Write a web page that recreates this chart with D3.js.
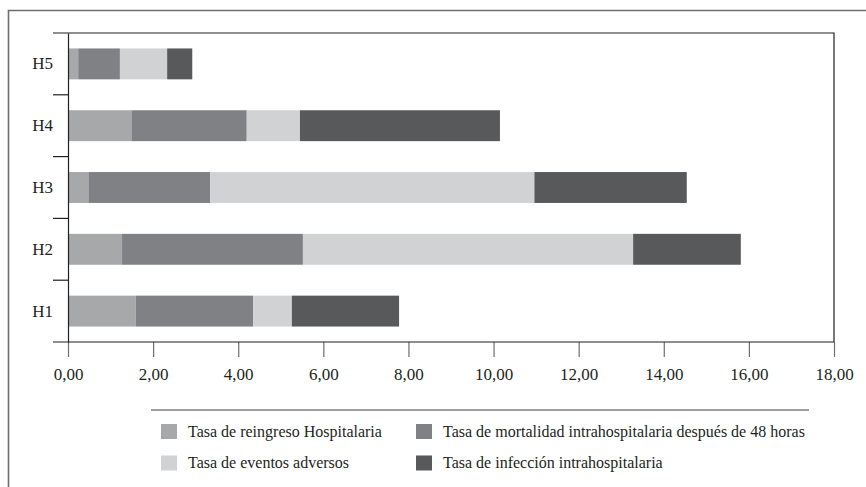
<!DOCTYPE html>
<html><head><meta charset="utf-8">
<script src="https://cdn.jsdelivr.net/npm/d3@7"></script>
<style>
html,body{margin:0;padding:0;background:#fff;}
svg{display:block;font-family:"Liberation Serif","Times New Roman",serif;}
</style></head>
<body><svg id="chart" width="866" height="487"></svg>
<script>
const categories = ["H1","H2","H3","H4","H5"];
const seriesNames = [
  "Tasa de reingreso Hospitalaria",
  "Tasa de mortalidad intrahospitalaria después de 48 horas",
  "Tasa de eventos adversos",
  "Tasa de infección intrahospitalaria"
];
const reingreso   = [1.59, 1.27, 0.48, 1.49, 0.24];
const mortalidad  = [2.76, 4.25, 2.86, 2.71, 0.98];
const eventos     = [0.91, 7.76, 7.62, 1.25, 1.11];
const infeccion   = [2.52, 2.53, 3.58, 4.70, 0.59];
const xTicks = [0,2,4,6,8,10,12,14,16,18];
const colors = ["#a7a8aa","#808184","#d1d2d4","#58595b"];

const svg = d3.select("#chart");
const L = 68, R = 834, T = 33, B = 342;
const FONT = "'Liberation Serif','Times New Roman',serif";

const table = categories.map((c,i)=>({cat:c, s0:reingreso[i], s1:mortalidad[i], s2:eventos[i], s3:infeccion[i]}));
const keys = ["s0","s1","s2","s3"];
const stacked = d3.stack().keys(keys)(table);

const x = d3.scaleLinear().domain([0,18]).range([L,R]);
const y = d3.scaleBand().domain(categories).range([B,T]).paddingInner(0.5).paddingOuter(0.25);

// outer frame
svg.append("path").attr("d","M8.5,487 V10.5 H866").attr("fill","none").attr("stroke","#6d6e70").attr("stroke-width",1.6);

// bars
svg.append("g").selectAll("g").data(stacked).join("g")
  .attr("fill",(d,i)=>colors[i])
  .selectAll("rect").data(d=>d).join("rect")
  .attr("x",d=>x(d[0])).attr("width",d=>x(d[1])-x(d[0]))
  .attr("y",d=>y(d.data.cat)).attr("height",y.bandwidth());

// frame of plot: top and right
svg.append("path").attr("d",`M53,${T} H${R} V${B}`).attr("fill","none").attr("stroke","#231f20").attr("stroke-width",1.2);

// x axis
const xAxis = d3.axisBottom(x).tickValues(xTicks).tickSize(15).tickFormat(d=>d3.format(".2f")(d).replace(".",","));
const gx = svg.append("g").attr("transform",`translate(0,${B})`).call(xAxis).attr("font-family",FONT);
gx.select(".domain").remove();
gx.append("line").attr("x1",53).attr("x2",R).attr("stroke","#231f20").attr("stroke-width",1.2);
gx.selectAll(".tick line").attr("stroke","#6d6e70").attr("stroke-width",1.2);
gx.selectAll(".tick text").attr("font-size",17).attr("fill","#231f20").attr("dy","1.2em");

// y axis
const gy = svg.append("g").attr("transform",`translate(${L},0)`).call(d3.axisLeft(y).tickSize(0).tickPadding(15)).attr("font-family",FONT);
gy.select(".domain").attr("stroke","#231f20").attr("stroke-width",1.2);
gy.selectAll(".tick text").attr("font-size",17).attr("fill","#231f20");
const boundaries = categories.map(c=>y(c) - y.step()*y.paddingInner()/2).filter(v=>v>T+1 && v<B-1);
svg.append("g").selectAll("line").data(boundaries).join("line")
  .attr("x1",53).attr("x2",L).attr("y1",d=>d).attr("y2",d=>d)
  .attr("stroke","#231f20").attr("stroke-width",1.2);

// legend
svg.append("line").attr("x1",151).attr("x2",809).attr("y1",410).attr("y2",410).attr("stroke","#414042").attr("stroke-width",1.2);
const legPos = [[161,431.5],[416,431.5],[161,463],[416,463]];
const lg = svg.append("g").attr("font-family",FONT).selectAll("g").data(seriesNames).join("g")
  .attr("transform",(d,i)=>`translate(${legPos[i][0]},${legPos[i][1]})`);
lg.append("rect").attr("x",0).attr("y",-7.5).attr("width",16).attr("height",15).attr("fill",(d,i)=>colors[i]);
lg.append("text").attr("x",27).attr("y",0).attr("dy","0.33em").attr("font-size",16).attr("fill","#231f20").text(d=>d);
</script></body></html>
